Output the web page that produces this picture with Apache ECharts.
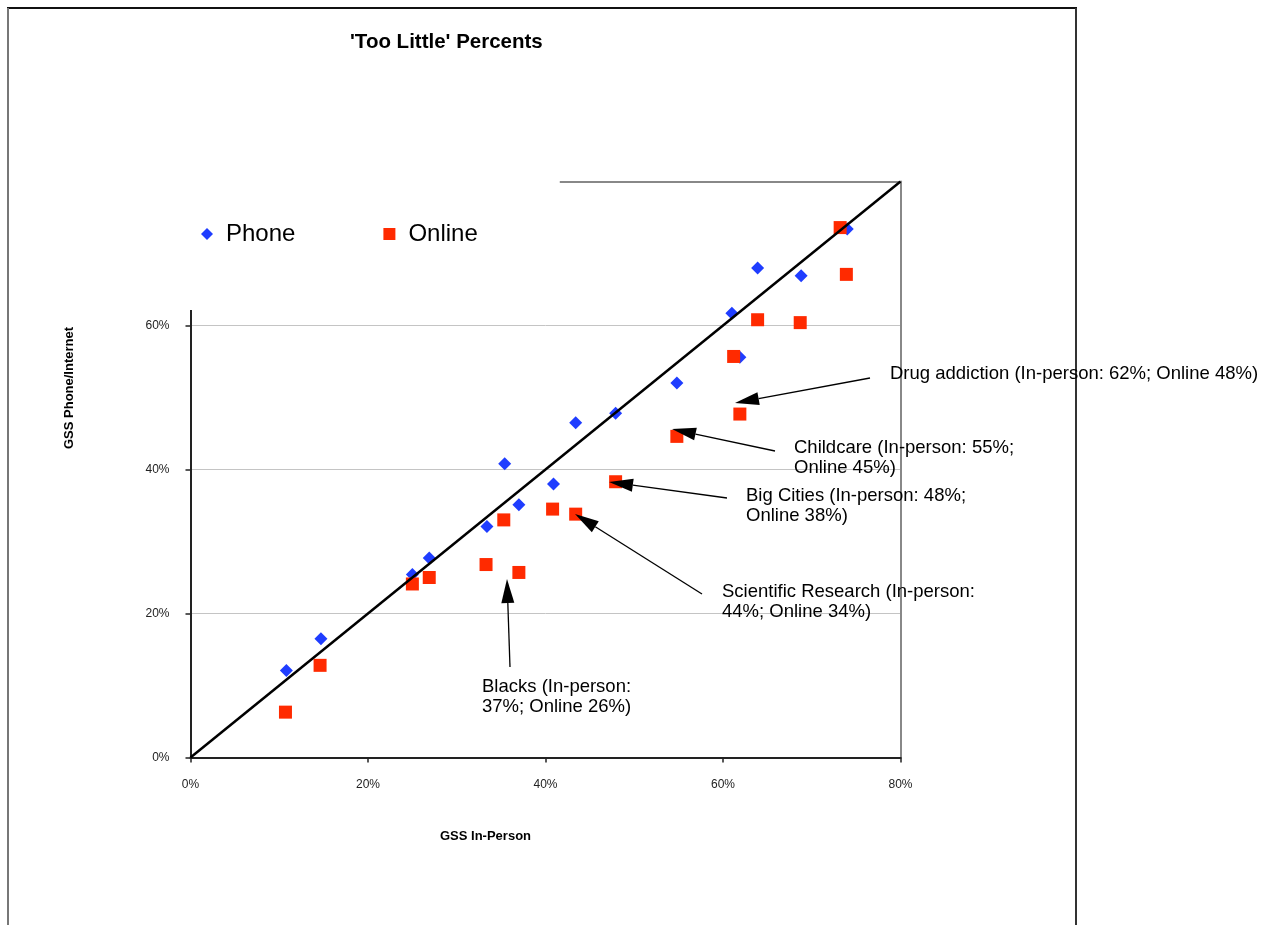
<!DOCTYPE html>
<html>
<head>
<meta charset="utf-8">
<script src="https://cdn.jsdelivr.net/npm/echarts@6/dist/echarts.min.js"></script>
<style>
html,body{margin:0;padding:0;background:#fff;}
#chart{width:1279px;height:925px;}
</style>
</head>
<body>
<div id="chart"></div>
<script>
// ---- data (percent values) ----
const seriesNames = ['Phone', 'Online'];
const phoneX = [10.8, 14.7, 25.0, 26.9, 33.4, 35.4, 37.0, 40.9, 43.4, 47.9, 54.8, 61.0, 61.9, 63.9, 68.8, 74.0];
const phoneY = [12.1, 16.5, 25.4, 27.7, 32.1, 40.8, 35.1, 38.0, 46.5, 47.8, 52.0, 61.7, 55.6, 68.0, 66.9, 73.4];
const onlineX = [10.7, 14.6, 25.0, 26.9, 33.3, 35.3, 37.0, 40.8, 43.4, 47.9, 54.8, 61.2, 61.9, 63.9, 68.7, 73.9, 73.2];
const onlineY = [6.3, 12.8, 24.1, 25.0, 26.8, 33.0, 25.7, 34.5, 33.8, 38.3, 44.6, 55.7, 47.7, 60.8, 60.4, 67.1, 73.6];
const refLineX = [0, 80];
const refLineY = [0, 80];
const axisTicks = [0, 20, 40, 60, 80];
const annotationTexts = [
  'Drug addiction (In-person: 62%; Online 48%)',
  'Childcare (In-person: 55%;\nOnline 45%)',
  'Big Cities (In-person: 48%;\nOnline 38%)',
  'Scientific Research (In-person:\n44%; Online 34%)',
  'Blacks (In-person:\n37%; Online 26%)'
];

// ---- layout (pixels) ----
const annotationLayout = [
  {x: 890, y: 364, tail: [870, 378], tip: [735, 403]},
  {x: 794, y: 438, tail: [775, 451], tip: [672, 429]},
  {x: 746, y: 486, tail: [727, 498], tip: [609, 482]},
  {x: 722, y: 582, tail: [702, 594], tip: [575, 514]},
  {x: 482, y: 677, tail: [510, 667], tip: [507, 579]}
];

const FONT = '"Liberation Sans", Arial, sans-serif';
const pct = v => v + '%';

function arrow(tail, tip) {
  const dx = tip[0] - tail[0], dy = tip[1] - tail[1];
  const len = Math.sqrt(dx * dx + dy * dy);
  const ux = dx / len, uy = dy / len;
  const L = 24, W = 6.5;
  const bx = tip[0] - ux * L, by = tip[1] - uy * L;
  const px = -uy, py = ux;
  return [
    {type: 'line', z: 10, shape: {x1: tail[0], y1: tail[1], x2: bx, y2: by},
     style: {stroke: '#000', lineWidth: 1.3}},
    {type: 'polygon', z: 10, shape: {points: [[tip[0], tip[1]], [bx + px * W, by + py * W], [bx - px * W, by - py * W]]},
     style: {fill: '#000'}}
  ];
}

const graphics = [
  {type: 'line', shape: {x1: 7, y1: 8, x2: 1077, y2: 8}, style: {stroke: '#111', lineWidth: 2}},
  {type: 'line', shape: {x1: 8, y1: 8, x2: 8, y2: 930}, style: {stroke: '#777', lineWidth: 2}},
  {type: 'line', shape: {x1: 1076, y1: 8, x2: 1076, y2: 930}, style: {stroke: '#333', lineWidth: 2}}
];
annotationTexts.forEach((t, i) => {
  const a = annotationLayout[i];
  graphics.push({type: 'text', z: 10, style: {text: t, x: a.x, y: a.y, font: '18.5px ' + FONT, fill: '#000', lineHeight: 20, verticalAlign: 'top'}});
  arrow(a.tail, a.tip).forEach(g => graphics.push(g));
});

const chart = echarts.init(document.getElementById('chart'), null, {renderer: 'canvas'});
const option = {
  backgroundColor: '#fff',
  animation: false,
  title: {
    text: "'Too Little' Percents",
    left: 350, top: 32, padding: 0,
    textStyle: {fontFamily: FONT, fontSize: 20.5, fontWeight: 'bold', color: '#000'}
  },
  legend: {
    data: seriesNames,
    left: 170, top: 172,
    padding: [50, 82, 64, 31],
    backgroundColor: '#fff',
    itemWidth: 12, itemHeight: 12,
    itemGap: 88,
    z: 5,
    textStyle: {fontFamily: FONT, fontSize: 24, color: '#000', padding: [0, 0, 0, 8]}
  },
  grid: {left: 190.5, top: 181.5, width: 710, height: 576, containLabel: false, outerBoundsMode: 'none'},
  xAxis: [{
    type: 'value', min: axisTicks[0], max: axisTicks[axisTicks.length - 1], interval: 20,
    name: 'GSS In-Person', nameLocation: 'middle', nameGap: 72,
    nameTextStyle: {fontFamily: FONT, fontSize: 13, fontWeight: 'bold', color: '#000', padding: [0, 120, 0, 0]},
    axisLine: {show: true, onZero: false, lineStyle: {color: '#222', width: 2}},
    axisTick: {show: true, length: 5, lineStyle: {color: '#222', width: 1.5}},
    axisLabel: {formatter: pct, margin: 21, fontFamily: FONT, fontSize: 12, color: '#222'},
    splitLine: {show: false}
  }, {
    type: 'value', position: 'top', min: 0, max: 80, interval: 20,
    axisLine: {show: true, onZero: false, lineStyle: {color: '#888', width: 2}},
    axisTick: {show: false}, axisLabel: {show: false}, splitLine: {show: false}
  }],
  yAxis: [{
    type: 'value', min: axisTicks[0], max: axisTicks[axisTicks.length - 1], interval: 20,
    name: 'GSS Phone/Internet', nameLocation: 'middle', nameGap: 115,
    nameTextStyle: {fontFamily: FONT, fontSize: 13, fontWeight: 'bold', color: '#000', padding: [0, 0, 0, 163]},
    axisLine: {show: true, onZero: false, lineStyle: {color: '#222', width: 2}},
    axisTick: {show: true, length: 5, lineStyle: {color: '#222', width: 1.5}},
    axisLabel: {formatter: v => (v === 80 ? '' : v + '%'), margin: 21, fontFamily: FONT, fontSize: 12, color: '#222'},
    splitLine: {show: true, showMinLine: false, showMaxLine: false, lineStyle: {color: '#c4c4c4', width: 1}}
  }, {
    type: 'value', position: 'right', min: 0, max: 80, interval: 20,
    axisLine: {show: true, onZero: false, lineStyle: {color: '#888', width: 2}},
    axisTick: {show: false}, axisLabel: {show: false}, splitLine: {show: false}
  }],
  series: [{
    name: seriesNames[0], type: 'scatter', symbol: 'diamond', symbolSize: 13,
    itemStyle: {color: '#1f3dff', opacity: 1},
    data: phoneX.map((x, i) => [x, phoneY[i]]), z: 2
  }, {
    name: seriesNames[1], type: 'scatter', symbol: 'rect', symbolSize: 13,
    itemStyle: {color: '#ff2a00', opacity: 1},
    data: onlineX.map((x, i) => [x, onlineY[i]]), z: 3
  }, {
    name: 'Equal', type: 'line', symbol: 'none', silent: true, z: 4,
    lineStyle: {color: '#000', width: 2.5},
    data: refLineX.map((x, i) => [x, refLineY[i]])
  }],
  graphic: graphics
};
chart.setOption(option);
</script>
</body>
</html>
